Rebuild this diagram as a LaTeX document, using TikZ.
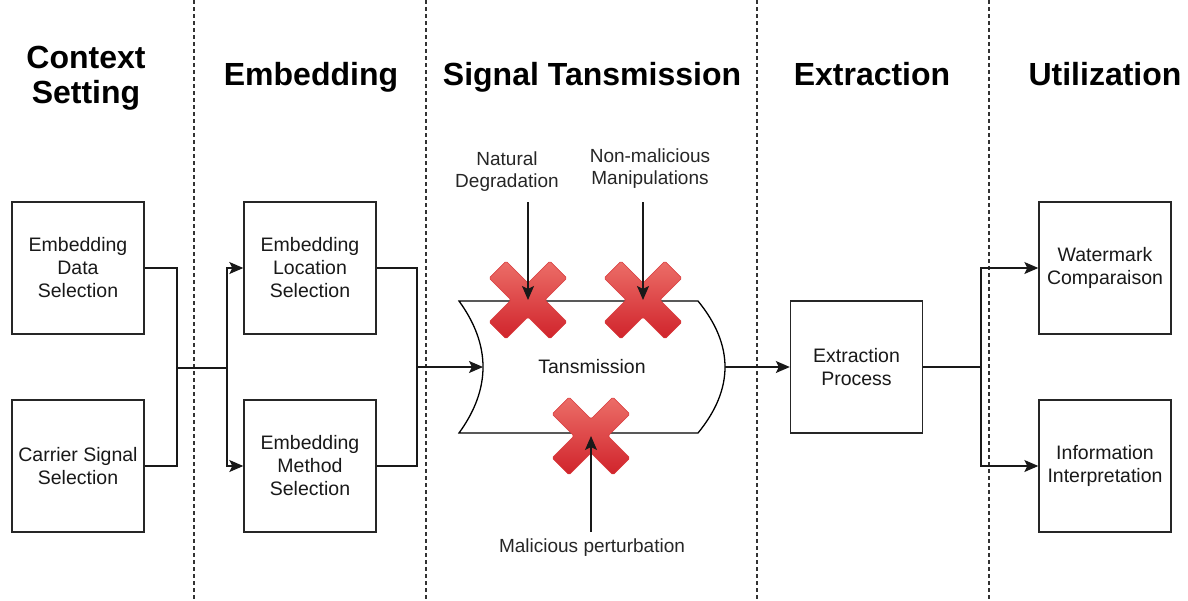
\documentclass[tikz,border=0pt]{standalone}
\usepackage{fontspec}
\setmainfont{Liberation Sans}
\usetikzlibrary{arrows.meta}
\definecolor{xtop}{HTML}{EC6E68}
\definecolor{xbot}{HTML}{D0232B}
\definecolor{xedge}{HTML}{D8383A}
\begin{document}
\begin{tikzpicture}[x=1pt,y=-1pt,
  box/.style={draw=black!85, line width=1.4pt, minimum width=132pt, minimum height=132pt, align=center, inner sep=0pt, font=\fontsize{19.5}{23}\selectfont, text=black!90},
  head/.style={align=center, inner sep=0pt, font=\fontsize{32}{35}\selectfont\bfseries},
  lbl/.style={align=center, inner sep=0pt, font=\fontsize{19}{22}\selectfont, text=black!85},
  wire/.style={line width=1.3pt, draw=black!90},
  arr/.style={wire, -{Stealth[length=14pt,width=12pt,inset=3pt]}},
  sep/.style={line width=1.2pt, dash pattern=on 4pt off 3pt, draw=black!80},
  redx/.style={top color=xtop, bottom color=xbot, draw=xedge, line width=0.6pt, rounded corners=1.5pt},
  redcross/.pic={
    \path[redx] (21.92,38.89) -- (0,16.97) -- (-21.92,38.89) -- (-38.89,21.92) -- (-16.97,0) -- (-38.89,-21.92) -- (-21.92,-38.89) -- (0,-16.97) -- (21.92,-38.89) -- (38.89,-21.92) -- (16.97,0) -- (38.89,21.92) -- cycle;
  }
]
\useasboundingbox (0,0) rectangle (1188,600);
\fill[white] (0,0) rectangle (1188,600);

% separators
\foreach \sx/\nm in {194/s1,426/s2,757/s3,989/s4}{
  \coordinate (\nm t) at (\sx,0);
  \coordinate (\nm b) at (\sx,600);
  \draw[sep] (\nm t) -- (\nm b);
}

% headings
\node[head] (h1) at (86,78) {Context\\Setting};
\node[head, anchor=base] (h2) at (311,85) {Embedding};
\node[head, anchor=base] (h3) at (592,85) {Signal Tansmission};
\node[head, anchor=base] (h4) at (872,85) {Extraction};
\node[head, anchor=base] (h5) at (1105,85) {Utilization};

% boxes
\node[box] (b1) at (78,268) {Embedding\\Data\\Selection};
\node[box] (b2) at (78,466) {Carrier Signal\\Selection};
\node[box] (b3) at (310,268) {Embedding\\Location\\Selection};
\node[box] (b4) at (310,466) {Embedding\\Method\\Selection};
\node[box] (ext) at (856.5,367) {Extraction\\Process};
\node[box] (wm) at (1105,268) {Watermark\\Comparaison};
\node[box] (inf) at (1105,466) {Information\\Interpretation};

% transmission shape
\draw[line width=1.3pt, fill=white] (459,301) -- (698,301) .. controls (734,345) and (734,389) .. (698,433) -- (459,433) .. controls (491,389) and (491,345) .. (459,301) -- cycle;
\coordinate (tin) at (483,367);
\coordinate (tout) at (725,367);
\node[lbl, font=\fontsize{19.5}{23}\selectfont, text=black!90] (tx) at (592,367) {Tansmission};

% crosses
\coordinate (c1) at (528,300);
\coordinate (c2) at (643,300);
\coordinate (c3) at (591,436);
\pic at (c1) {redcross};
\pic at (c2) {redcross};
\pic at (c3) {redcross};

% threat labels and arrows
\node[lbl] (nd) at (507,172) {Natural\\Degradation};
\node[lbl] (nm) at (650,169) {Non-malicious\\Manipulations};
\node[lbl] (mp) at (592,548) {Malicious perturbation};
\coordinate (a1) at (528,202);
\coordinate (a2) at (643,202);
\coordinate (a3) at (591,532);
\draw[arr] (a1) -- (c1);
\draw[arr] (a2) -- (c2);
\draw[arr] (a3) -- (c3);

% connectors
\coordinate (j1) at (177,368);
\coordinate (j2) at (227,368);
\coordinate (j3) at (417,367);
\coordinate (j4) at (981,367);
\draw[wire] (b1.east) -| (j1) |- (b2.east);
\draw[wire] (j1) -- (j2);
\draw[arr] (j2) |- (b3.west);
\draw[arr] (j2) |- (b4.west);
\draw[wire] (b3.east) -| (j3) |- (b4.east);
\draw[arr] (j3) -- (tin);
\draw[arr] (tout) -- (ext.west);
\draw[wire] (ext.east) -- (j4);
\draw[arr] (j4) |- (wm.west);
\draw[arr] (j4) |- (inf.west);
\end{tikzpicture}
\end{document}
